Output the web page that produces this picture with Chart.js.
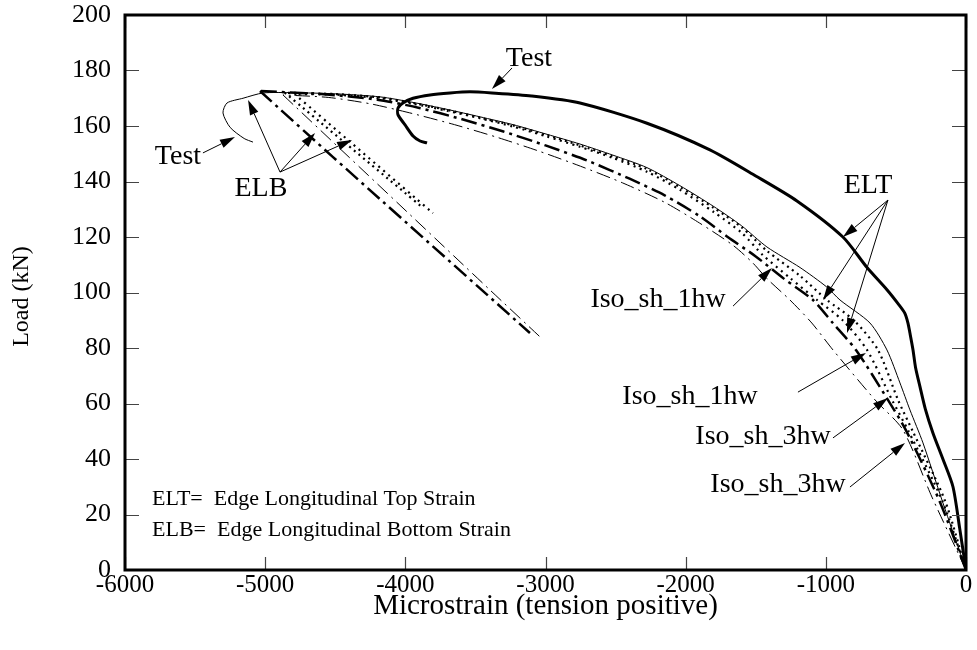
<!DOCTYPE html>
<html>
<head>
<meta charset="utf-8">
<script src="https://cdn.jsdelivr.net/npm/chart.js@4.4.1/dist/chart.umd.min.js"></script>
<style>
  html, body { margin: 0; padding: 0; background: #fff; }
  #wrap { width: 977px; height: 650px; }
</style>
</head>
<body>
<div id="wrap"><canvas id="c" width="977" height="650"></canvas></div>
<script>
// ---- Load (kN) vs. microstrain, test readings and four shell models ----

// Test, edge longitudinal top strain (ELT)
const testEltStrain = [0, -45, -93, -165, -236, -290, -328, -360, -378, -400, -414, -436, -485, -564, -706, -878, -1206, -1500, -1827, -2276, -2754, -3100, -3382, -3539, -3681, -3824, -3945, -4017, -4052, -4052, -4002, -3945, -3895, -3845];
const testEltLoad   = [0, 15, 30, 40, 49.4, 58, 66, 73, 79.3, 85.4, 89, 92.5, 96, 101, 109, 120, 133, 142, 151.4, 161, 168.3, 170.8, 171.9, 172.3, 171.9, 171.2, 170, 168.3, 166.5, 164, 160.4, 156.4, 154.6, 153.9];

// Test, edge longitudinal bottom strain (ELB)
const testElbStrain = [0, -170, -307, -400, -471, -564, -685, -899, -994, -1184, -1420, -1600, -1800, -2041, -2276, -2519, -2754, -2989, -3232, -3467, -3703, -3945, -4181, -4500, -4800, -5015, -5158, -5272, -5301, -5250, -5150, -5087];
const testElbLoad   = [0, 25, 45.8, 57.7, 67.4, 79.3, 89, 97.3, 102, 109, 116.4, 124, 131, 138.5, 145, 149.5, 153.5, 157, 160.5, 163.3, 166, 168.5, 170.5, 171.6, 172, 171.9, 170, 168.3, 164.7, 159.5, 155.5, 154.2];

// Model ELT curves
const dotAEltStrain = [0, -150, -380, -485, -628, -800, -992, -1184, -1420, -1600, -1800, -2041, -2276, -2519, -2754, -2989, -3232, -3467, -3703, -3945, -4181, -4500, -4860];
const dotAEltLoad   = [0, 25, 50, 61.3, 79.3, 90, 97.3, 106, 115, 123.5, 130.5, 138, 144.5, 149, 153, 156.7, 160.2, 163, 165.8, 168.3, 170.3, 171.5, 172];

const dotBEltStrain = [0, -170, -410, -528, -706, -880, -1063, -1250, -1450, -1600, -1800, -2041, -2276, -2519, -2754, -2989, -3232, -3467, -3703, -3945, -4181, -4500, -4790];
const dotBEltLoad   = [0, 25, 50, 61.3, 79.3, 90, 97.3, 105, 113.5, 121.5, 129, 137, 143.5, 148.5, 152.5, 156.2, 159.8, 162.8, 165.5, 168, 170, 171.3, 171.5];

const heavyEltStrain = [0, -190, -430, -557, -785, -950, -1092, -1300, -1500, -1700, -1900, -2150, -2400, -2700, -3000, -3300, -3600, -3900, -4200, -4600, -5037];
const heavyEltLoad   = [0, 25, 50.5, 61.3, 79.3, 89, 97.3, 105, 113, 120, 127.5, 135, 141, 147.5, 153, 158, 162.5, 166.5, 169.5, 171.5, 172.6];

const lightEltStrain = [0, -243, -450, -649, -949, -1100, -1256, -1420, -1520, -1662, -1900, -2150, -2450, -2750, -3050, -3350, -3650, -3950, -4250, -4550, -4873];
const lightEltLoad   = [0, 26.3, 50.5, 61.3, 79.3, 89, 97.3, 105, 110.6, 117, 125, 132.5, 139.5, 145.5, 151, 156, 160.5, 164.5, 168, 170.3, 171.2];

// Model ELB curves (post-peak branch)
const heavyElbStrain = [-5037, -4516, -3111];
const heavyElbLoad   = [172.6, 148.8, 85.4];
const lightElbStrain = [-4873, -3396, -3039];
const lightElbLoad   = [171.2, 100.9, 84];
const dotAElbStrain  = [-4860, -3874];
const dotAElbLoad    = [172, 130.5];
const dotBElbStrain  = [-4790, -3803];
const dotBElbLoad    = [171.5, 128.6];

// Axis ranges
const strainRange = [-6000, 0];
const loadRange = [0, 200];

// Text labels and leader arrows (data coordinates)
const noteTexts = ['Test', 'Test', 'ELB', 'ELT', 'Iso_sh_1hw', 'Iso_sh_1hw', 'Iso_sh_3hw', 'Iso_sh_3hw'];
const noteX = [-3118, -5622, -5030, -699, -2197, -1969, -1448, -1341];
const noteY = [184.1, 148.8, 137.3, 138.4, 97.3, 62.3, 47.9, 30.6];

const arrowFromX = [-3239, -5444, -4894, -4894, -4894, -557, -557, -557, -1662, -1199, -949, -828];
const arrowFromY = [180.9, 150.3, 143.4, 143.4, 143.4, 133.3, 133.3, 133.3, 95.1, 64.1, 47.6, 29.9];
const arrowToX   = [-3382, -5215, -5122, -4644, -4380, -878, -1020, -849, -1384, -714, -557, -435];
const arrowToY   = [173.3, 156.0, 169.4, 157.5, 155.0, 120.0, 97.3, 85.4, 108.8, 78.2, 62.0, 45.8];

const keyLines = ['ELT=  Edge Longitudinal Top Strain', 'ELB=  Edge Longitudinal Bottom Strain'];
const keyX = -5807;
const keyY = [25.6, 14.4];

const SERIF = '"Liberation Serif", "Times New Roman", serif';

function pts(xs, ys) { return xs.map((x, i) => ({ x: x, y: ys[i] })); }

function series(label, xs, ys, width, dash) {
  return {
    label: label,
    data: pts(xs, ys),
    showLine: true,
    borderColor: '#000',
    backgroundColor: '#000',
    borderWidth: width,
    borderDash: dash || [],
    borderCapStyle: 'butt',
    borderJoinStyle: 'round',
    pointRadius: 0,
    tension: 0.25,
    fill: false
  };
}

const datasets = [
  series('Test ELT', testEltStrain, testEltLoad, 3),
  series('Test ELB', testElbStrain, testElbLoad, 1),
  series('Model A ELT', dotAEltStrain, dotAEltLoad, 2.2, [2, 4]),
  series('Model B ELT', dotBEltStrain, dotBEltLoad, 2.2, [2, 4.5]),
  series('Model C ELT', heavyEltStrain, heavyEltLoad, 2.5, [16, 5, 3, 5]),
  series('Model D ELT', lightEltStrain, lightEltLoad, 1, [14, 5, 2, 5]),
  series('Model A ELB', dotAElbStrain, dotAElbLoad, 2.2, [2, 4]),
  series('Model B ELB', dotBElbStrain, dotBElbLoad, 2.2, [2, 4.5]),
  series('Model C ELB', heavyElbStrain, heavyElbLoad, 2.5, [16, 5, 3, 5]),
  series('Model D ELB', lightElbStrain, lightElbLoad, 1, [14, 5, 2, 5])
];

// Frame, inward ticks, axis titles, labels and arrows
const decor = {
  id: 'decor',
  afterDatasetsDraw(chart) {
    const ctx = chart.ctx;
    const xs = chart.scales.x, ys = chart.scales.y;
    const a = chart.chartArea;
    ctx.save();

    // inward tick marks on all four sides
    ctx.strokeStyle = '#444';
    ctx.lineWidth = 1.2;
    ctx.beginPath();
    ys.ticks.forEach(t => {
      const p = Math.round(ys.getPixelForValue(t.value)) + 0.5;
      ctx.moveTo(a.left, p); ctx.lineTo(a.left + 14, p);
      ctx.moveTo(a.right, p); ctx.lineTo(a.right - 14, p);
    });
    xs.ticks.forEach(t => {
      const p = Math.round(xs.getPixelForValue(t.value)) + 0.5;
      ctx.moveTo(p, a.bottom); ctx.lineTo(p, a.bottom - 13);
      ctx.moveTo(p, a.top); ctx.lineTo(p, a.top + 13);
    });
    ctx.stroke();

    // frame
    ctx.strokeStyle = '#000';
    ctx.lineWidth = 3;
    ctx.strokeRect(a.left, a.top, a.right - a.left, a.bottom - a.top);

    // leader arrows
    ctx.fillStyle = '#000';
    ctx.strokeStyle = '#000';
    ctx.lineWidth = 1;
    for (let i = 0; i < arrowFromX.length; i++) {
      const x0 = xs.getPixelForValue(arrowFromX[i]), y0 = ys.getPixelForValue(arrowFromY[i]);
      const x1 = xs.getPixelForValue(arrowToX[i]), y1 = ys.getPixelForValue(arrowToY[i]);
      const ang = Math.atan2(y1 - y0, x1 - x0);
      const L = 15, W = 4.5;
      const bx = x1 - L * Math.cos(ang), by = y1 - L * Math.sin(ang);
      ctx.beginPath(); ctx.moveTo(x0, y0); ctx.lineTo(bx, by); ctx.stroke();
      ctx.beginPath();
      ctx.moveTo(x1, y1);
      ctx.lineTo(bx + W * Math.sin(ang), by - W * Math.cos(ang));
      ctx.lineTo(bx - W * Math.sin(ang), by + W * Math.cos(ang));
      ctx.closePath(); ctx.fill();
    }

    // curve labels
    ctx.font = '28px ' + SERIF;
    ctx.textAlign = 'center';
    ctx.textBaseline = 'middle';
    for (let i = 0; i < noteTexts.length; i++) {
      ctx.fillText(noteTexts[i], xs.getPixelForValue(noteX[i]), ys.getPixelForValue(noteY[i]));
    }

    // abbreviation key
    ctx.font = '22px ' + SERIF;
    ctx.textAlign = 'left';
    keyLines.forEach((s, i) => ctx.fillText(s, xs.getPixelForValue(keyX), ys.getPixelForValue(keyY[i])));

    // axis titles
    ctx.font = '29px ' + SERIF;
    ctx.textAlign = 'center';
    ctx.fillText('Microstrain (tension positive)', (a.left + a.right) / 2, a.bottom + 36);
    ctx.font = '24px ' + SERIF;
    ctx.translate(22, (a.top + a.bottom) / 2 + 4);
    ctx.rotate(-Math.PI / 2);
    ctx.fillText('Load (kN)', 0, 0);
    ctx.restore();
  }
};

new Chart(document.getElementById('c'), {
  type: 'scatter',
  data: { datasets: datasets },
  options: {
    responsive: false,
    animation: false,
    events: [],
    layout: { padding: { left: 0, right: 11, top: 15, bottom: 0 } },
    plugins: { legend: { display: false }, tooltip: { enabled: false }, title: { display: false } },
    scales: {
      x: {
        type: 'linear',
        min: strainRange[0], max: strainRange[1],
        ticks: { stepSize: 1000, color: '#000', font: { family: SERIF, size: 25 }, padding: 0, maxRotation: 0,
                 callback: v => String(v) },
        grid: { display: false, drawTicks: false },
        border: { display: false },
        afterFit(s) { s.height = 80; s.paddingLeft = 0; s.paddingRight = 0; }
      },
      y: {
        type: 'linear',
        min: loadRange[0], max: loadRange[1],
        ticks: { stepSize: 20, color: '#000', font: { family: SERIF, size: 26 }, padding: 14,
                 callback: v => String(v) },
        grid: { display: false, drawTicks: false },
        border: { display: false },
        afterFit(s) { s.width = 125; s.paddingTop = 0; s.paddingBottom = 0; }
      }
    }
  },
  plugins: [decor]
});
</script>
</body>
</html>
